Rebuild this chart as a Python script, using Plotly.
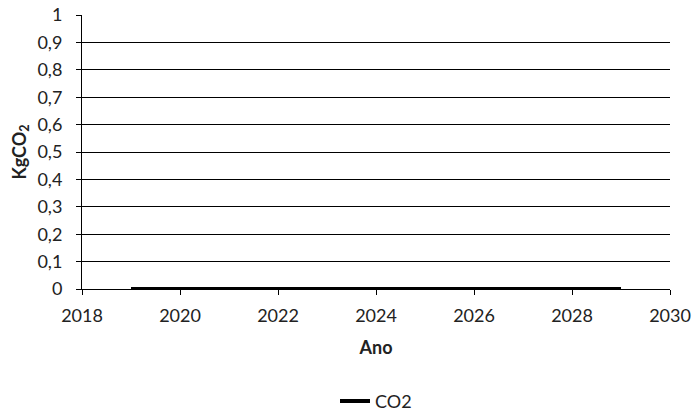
import plotly.graph_objects as go

# Annual CO2 emissions (kg)
years = [2019, 2020, 2021, 2022, 2023, 2024, 2025, 2026, 2027, 2028, 2029]
co2_kg = [0, 0, 0, 0, 0, 0, 0, 0, 0, 0, 0]

x_ticks = [2018, 2020, 2022, 2024, 2026, 2028, 2030]
y_ticks = [0, 0.1, 0.2, 0.3, 0.4, 0.5, 0.6, 0.7, 0.8, 0.9, 1]
y_labels = ["0", "0,1", "0,2", "0,3", "0,4", "0,5", "0,6", "0,7", "0,8", "0,9", "1"]

font_family = "Lato, 'Open Sans', sans-serif"

fig = go.Figure()
fig.add_trace(go.Scatter(
    x=years, y=co2_kg, mode="lines", name="CO2",
    line=dict(color="black", width=4),
    cliponaxis=False,
))

fig.update_layout(
    width=694, height=411,
    margin=dict(l=82, r=24, t=15, b=122, autoexpand=False),
    paper_bgcolor="white", plot_bgcolor="white",
    font=dict(family=font_family, size=18, color="#222"),
    separators=",.",
    showlegend=True,
    legend=dict(orientation="h", x=0.5, xanchor="center", y=-0.41, yanchor="middle",
                font=dict(size=18)),
    xaxis=dict(
        range=[2018, 2030], tickvals=x_ticks, ticks="outside", ticklen=5,
        tickcolor="black", showline=True, linecolor="black", linewidth=1,
        showgrid=False, zeroline=False, ticklabelstandoff=5,
        title=dict(text="<b>Ano</b>", standoff=16, font=dict(size=18)),
    ),
    yaxis=dict(
        range=[0, 1], tickvals=y_ticks, ticktext=y_labels, ticks="outside", ticklen=5,
        tickcolor="black", showline=True, linecolor="black", linewidth=1,
        showgrid=True, gridcolor="black", gridwidth=1, zeroline=False,
        ticklabelstandoff=10,
        title=dict(text="<b>KgCO<sub>2</sub></b>", standoff=6, font=dict(size=18)),
    ),
)

fig.write_html("out.html")
